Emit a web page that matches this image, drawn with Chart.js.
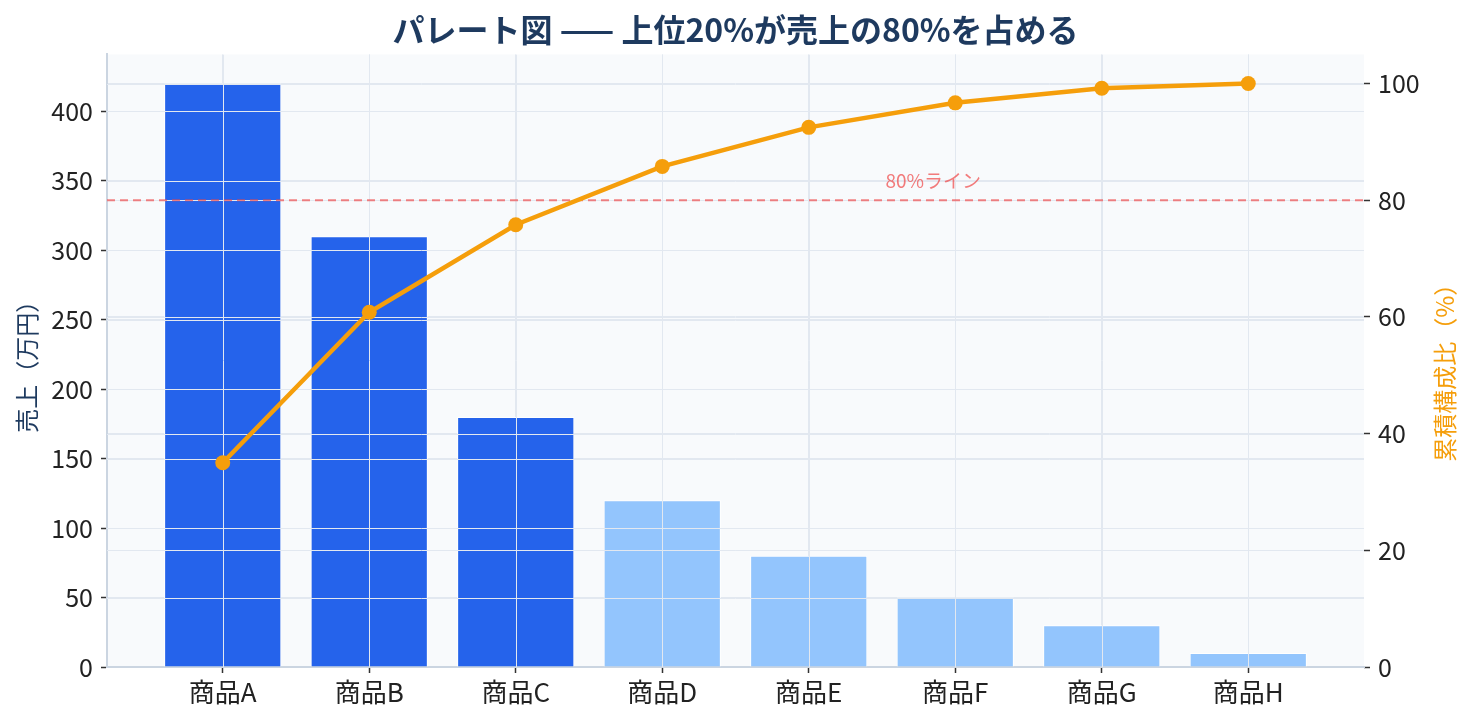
<!DOCTYPE html>
<html>
<head>
<meta charset="utf-8">
<script src="https://cdn.jsdelivr.net/npm/chart.js@4"></script>
<style>
  html, body { margin: 0; padding: 0; background: #ffffff; }
  #wrap { width: 1471px; height: 722px; position: relative; }
</style>
</head>
<body>
<div id="wrap"><canvas id="chart"></canvas></div>
<script>
// data
const categories = ['商品A', '商品B', '商品C', '商品D', '商品E', '商品F', '商品G', '商品H'];
const sales = [420, 310, 180, 120, 80, 50, 30, 10];            // 万円
const cumulativePct = [35.0, 60.8, 75.8, 85.8, 92.5, 96.7, 99.2, 100.0];
const leftTicks = [0, 50, 100, 150, 200, 250, 300, 350, 400];
const rightTicks = [0, 20, 40, 60, 80, 100];
const threshold = 80;
const topGroupSize = 3;

const FONT = "'Noto Sans CJK JP', 'Noto Sans', sans-serif";
const GRID = '#e2e8f0';
const SPINE = '#cbd5e1';
const NAVY = '#1e3a5f';
const AMBER = '#f59e0b';

const barColors = sales.map((_, i) => i < topGroupSize ? '#2563eb' : '#93c5fd');

// grid drawn again on top of the bars (line stays above it)
const overlayPlugin = {
    id: 'overlay',
    afterDatasetDraw(chart, args) {
        if (args.index !== 0) return;
        const { ctx, chartArea: a, scales } = chart;
        ctx.save();
        ctx.beginPath();
        ctx.rect(a.left, a.top, a.right - a.left, a.bottom - a.top);
        ctx.clip();
        ctx.strokeStyle = GRID;
        ctx.lineWidth = 1;
        ctx.beginPath();
        scales.y.ticks.forEach(t => {
            const p = Math.round(scales.y.getPixelForValue(t.value)) + 0.5;
            ctx.moveTo(a.left, p); ctx.lineTo(a.right, p);
        });
        scales.y2.ticks.forEach(t => {
            const p = Math.round(scales.y2.getPixelForValue(t.value)) + 0.5;
            ctx.moveTo(a.left, p); ctx.lineTo(a.right, p);
        });
        scales.x.ticks.forEach(t => {
            const p = Math.round(scales.x.getPixelForValue(t.value)) + 0.5;
            ctx.moveTo(p, a.top); ctx.lineTo(p, a.bottom);
        });
        ctx.stroke();

        // 80% reference line
        const yl = scales.y2.getPixelForValue(threshold);
        ctx.strokeStyle = 'rgba(239, 68, 68, 0.65)';
        ctx.lineWidth = 2;
        ctx.setLineDash([8, 5]);
        ctx.beginPath();
        ctx.moveTo(a.left, yl); ctx.lineTo(a.right, yl);
        ctx.stroke();
        ctx.setLineDash([]);
        ctx.fillStyle = 'rgba(239, 68, 68, 0.7)';
        ctx.font = '19px ' + FONT;
        ctx.textAlign = 'center';
        ctx.textBaseline = 'middle';
        ctx.fillText(threshold + '%ライン', scales.x.getPixelForValue(4.85), yl - 19);
        ctx.restore();
    },
    afterDraw(chart) {
        // right axis title, read bottom-to-top like the left one
        const { ctx, chartArea: a } = chart;
        ctx.save();
        ctx.translate(1445, (a.top + a.bottom) / 2 + 6);
        ctx.rotate(-Math.PI / 2);
        ctx.fillStyle = AMBER;
        ctx.font = '24px ' + FONT;
        ctx.textAlign = 'center';
        ctx.textBaseline = 'middle';
        ctx.fillText('累積構成比（%）', 0, 0);
        ctx.restore();
    }
};

new Chart(document.getElementById('chart'), {
    data: {
        datasets: [{
            type: 'bar',
            label: '売上',
            data: sales.map((v, i) => ({ x: i, y: v })),
            backgroundColor: barColors,
            borderColor: '#ffffff',
            borderWidth: 1,
            barPercentage: 0.8,
            categoryPercentage: 1.0,
            yAxisID: 'y',
            order: 2
        }, {
            type: 'line',
            label: '累積構成比',
            data: cumulativePct.map((v, i) => ({ x: i, y: v })),
            borderColor: AMBER,
            backgroundColor: AMBER,
            borderWidth: 4.5,
            pointRadius: 7.5,
            pointHoverRadius: 7.5,
            pointBorderWidth: 0,
            tension: 0,
            yAxisID: 'y2',
            order: 1
        }]
    },
    options: {
        responsive: true,
        maintainAspectRatio: false,
        animation: false,
        layout: { padding: 0 },
        plugins: {
            legend: { display: false },
            tooltip: { enabled: false },
            title: {
                display: true,
                text: 'パレート図 —— 上位20%が売上の80%を占める',
                color: NAVY,
                font: { family: FONT, size: 32, weight: 'bold' },
                padding: { top: 11, bottom: 5 }
            }
        },
        scales: {
            x: {
                type: 'linear',
                min: -0.79,
                max: 7.79,
                offset: false,
                afterBuildTicks: axis => { axis.ticks = categories.map((_, i) => ({ value: i })); },
                afterFit: s => { s.height = 55; },
                ticks: {
                    callback: v => categories[v],
                    color: '#222',
                    font: { family: FONT, size: 26 },
                    padding: 4,
                    maxRotation: 0
                },
                grid: { color: GRID, offset: false, tickColor: '#333', tickLength: 6, tickWidth: 1.5 },
                border: { color: SPINE, width: 2 }
            },
            y: {
                position: 'left',
                min: 0,
                max: 441,
                afterBuildTicks: axis => { axis.ticks = leftTicks.map(v => ({ value: v })); },
                afterFit: s => { s.width = 107; },
                ticks: { color: '#222', font: { family: FONT, size: 25 }, padding: 8 },
                grid: { color: GRID, tickColor: '#333', tickLength: 6, tickWidth: 1.5 },
                border: { color: SPINE, width: 2 },
                title: {
                    display: true,
                    text: '売上（万円）',
                    color: NAVY,
                    font: { family: FONT, size: 24 },
                    padding: { top: 12, bottom: 0 }
                }
            },
            y2: {
                position: 'right',
                min: 0,
                max: 105,
                afterBuildTicks: axis => { axis.ticks = rightTicks.map(v => ({ value: v })); },
                afterFit: s => { s.width = 107; },
                ticks: { color: '#222', font: { family: FONT, size: 25 }, padding: 8 },
                grid: { color: GRID, drawOnChartArea: true, tickColor: '#333', tickLength: 6, tickWidth: 1.5 },
                border: { display: false }
            }
        }
    },
    plugins: [{
        id: 'plotBg',
        beforeDraw(chart) {
            const { ctx, chartArea: a } = chart;
            ctx.save();
            ctx.fillStyle = '#f8fafc';
            ctx.fillRect(a.left, a.top, a.right - a.left, a.bottom - a.top);
            ctx.restore();
        }
    }, overlayPlugin]
});
</script>
</body>
</html>
